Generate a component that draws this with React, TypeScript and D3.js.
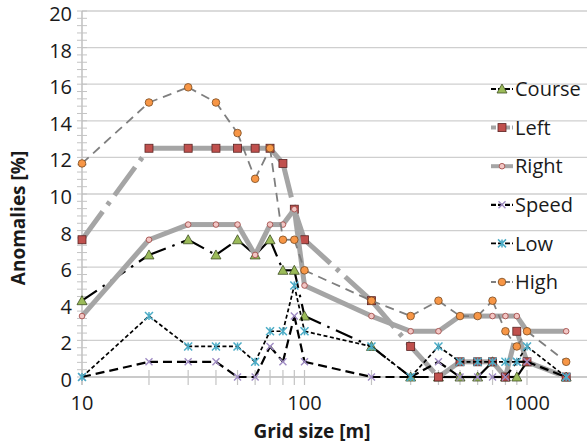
import React from "react";
import * as d3 from "d3";

// grid sizes [m] and anomaly percentages per series
const gridSizes = [10, 20, 30, 40, 50, 60, 70, 80, 90, 100, 200, 300, 400, 500, 600, 700, 800, 900, 1000, 1500];
const course = [4.17, 6.67, 7.5, 6.67, 7.5, 6.67, 7.5, 5.83, 5.83, 3.33, 1.67, 0, 0, 0, 0, 0.83, 0, 0, 0.83, 0];
const left = [7.5, 12.5, 12.5, 12.5, 12.5, 12.5, 12.5, 11.67, 9.17, 7.5, 4.17, 1.67, 0, 0.83, 0.83, 0.83, 0, 2.5, 0.83, 0];
const right = [3.33, 7.5, 8.33, 8.33, 8.33, 6.67, 8.33, 8.33, 9.17, 5.0, 3.33, 2.5, 2.5, 3.33, 3.33, 3.33, 3.33, 3.33, 2.5, 2.5];
const speed = [0, 0.83, 0.83, 0.83, 0, 0, 1.67, 0.83, 3.33, 0.83, 0, 0, 0.83, 0, 0, 0, 0, 0.83, 0.83, 0];
const low = [0, 3.33, 1.67, 1.67, 1.67, 0.83, 2.5, 2.5, 5.0, 2.5, 1.67, 0, 1.67, 0.83, 0.83, 0.83, 0.83, 0.83, 1.67, 0];
const high = [11.67, 15.0, 15.83, 15.0, 13.33, 10.83, 12.5, 7.5, 7.5, 5.83, 4.17, 3.33, 4.17, 3.33, 3.33, 4.17, 2.5, 1.67, 2.5, 0.83];

const seriesNames = ["Course", "Left", "Right", "Speed", "Low", "High"];
const seriesValues = [course, left, right, speed, low, high];

const yTicks = [0, 2, 4, 6, 8, 10, 12, 14, 16, 18, 20];
const xMajor = [10, 100, 1000];
const xMinor = [20, 30, 40, 50, 60, 70, 80, 90, 200, 300, 400, 500, 600, 700, 800, 900, 2000];

const styles = {
  Course: { stroke: "#000", width: 2.2, dash: "18 7 2.5 7", marker: "triangle" },
  Left: { stroke: "#a5a5a5", width: 5, dash: "35 8 4 8", marker: "square" },
  Right: { stroke: "#a5a5a5", width: 5, dash: null, marker: "smallcircle" },
  Speed: { stroke: "#000", width: 2.2, dash: "9 5", marker: "cross" },
  Low: { stroke: "#000", width: 1.7, dash: "4 2.5", marker: "star" },
  High: { stroke: "#7f7f7f", width: 1.8, dash: "9 6", marker: "circle" },
};

const FONT = "'Open Sans', sans-serif";

function Marker({ type, x, y }) {
  if (type === "triangle")
    return (
      <path
        d={`M${x},${y - 5} L${x + 5},${y + 4} L${x - 5},${y + 4} Z`}
        fill="#9bbb59"
        stroke="#3f4f24"
        strokeWidth={0.8}
      />
    );
  if (type === "square")
    return <rect x={x - 4} y={y - 4} width={8} height={8} fill="#c0504d" stroke="#5a2423" strokeWidth={0.8} />;
  if (type === "smallcircle")
    return <circle cx={x} cy={y} r={2.8} fill="#f2c6c4" stroke="#a5504d" strokeWidth={0.9} />;
  if (type === "circle")
    return <circle cx={x} cy={y} r={3.8} fill="#f79646" stroke="#7a4a20" strokeWidth={0.8} />;
  if (type === "cross")
    return (
      <path
        d={`M${x - 3.5},${y - 3.5} L${x + 3.5},${y + 3.5} M${x - 3.5},${y + 3.5} L${x + 3.5},${y - 3.5}`}
        stroke="#a08cc4"
        strokeWidth={1.4}
      />
    );
  // star
  return (
    <path
      d={`M${x - 4},${y - 4} L${x + 4},${y + 4} M${x - 4},${y + 4} L${x + 4},${y - 4} M${x},${y - 4} L${x},${y + 4}`}
      stroke="#4bacc6"
      strokeWidth={1.5}
    />
  );
}

export default function App() {
  const width = 587;
  const height = 448;

  const x = d3.scaleLog().domain([10, 1000]).range([82, 527]);
  const y = d3.scaleLinear().domain([0, 20]).range([377, 11]);
  const xEnd = 587;

  const yMinor = d3.range(0, 20.01, 0.4);

  const legendX = 491;
  const legendTop = 89;
  const legendStep = 38.6;

  return (
    <div style={{ position: "fixed", left: 0, top: 0 }}>
      <svg width={width} height={height} style={{ display: "block", background: "#fff" }}>
        {/* gridlines */}
        {yTicks.slice(1).map((t) => (
          <line key={"g" + t} x1={x(10)} x2={xEnd} y1={y(t)} y2={y(t)} stroke="#cfcfcf" strokeWidth={1.3} />
        ))}
        {/* y axis */}
        <line x1={x(10)} x2={x(10)} y1={y(20)} y2={y(0) + 8} stroke="#b0b0b0" strokeWidth={1.2} />
        {yMinor.map((t, i) => (
          <line key={"ym" + i} x1={x(10) - 5} x2={x(10) + 5} y1={y(t)} y2={y(t)} stroke="#c4c4c4" strokeWidth={1} />
        ))}
        {/* x axis */}
        <line x1={x(10)} x2={xEnd} y1={y(0)} y2={y(0)} stroke="#b8b8b8" strokeWidth={1.3} />
        {xMinor.concat(xMajor).map((t) => (
          <line key={"xm" + t} x1={x(t)} x2={x(t)} y1={y(0) - 7} y2={y(0) + 8} stroke="#c4c4c4" strokeWidth={1.2} />
        ))}

        {/* tick labels */}
        {yTicks.map((t) => (
          <text key={"yl" + t} x={72} y={y(t)} dy="0.5em" textAnchor="end" fontFamily={FONT} fontSize={20} fill="#1a1a1a">
            {t}
          </text>
        ))}
        {xMajor.map((t) => (
          <text key={"xl" + t} x={x(t)} y={410} textAnchor="middle" fontFamily={FONT} fontSize={20} fill="#1a1a1a">
            {t}
          </text>
        ))}

        {/* axis titles */}
        <text
          transform={`translate(25,${218}) rotate(-90)`}
          textAnchor="middle"
          fontFamily={FONT}
          fontSize={19}
          fontWeight="bold"
          fill="#1a1a1a"
        >
          Anomalies [%]
        </text>
        <text x={312} y={438} textAnchor="middle" fontFamily={FONT} fontSize={19} fontWeight="bold" fill="#1a1a1a">
          Grid size [m]
        </text>

        {/* series: each segment drawn on its own, markers on top */}
        {seriesNames.map((name, si) => {
          const st = styles[name];
          const vals = seriesValues[si];
          return (
            <g key={name}>
              {vals.slice(1).map((v, i) => (
                <path
                  key={"s" + i}
                  d={d3.line()([
                    [x(gridSizes[i]), y(vals[i])],
                    [x(gridSizes[i + 1]), y(v)],
                  ])}
                  fill="none"
                  stroke={st.stroke}
                  strokeWidth={st.width}
                  strokeDasharray={st.dash || undefined}
                />
              ))}
              {vals.map((v, i) => (
                <Marker key={"m" + i} type={st.marker} x={x(gridSizes[i])} y={y(v)} />
              ))}
            </g>
          );
        })}

        {/* legend */}
        {seriesNames.map((name, i) => {
          const st = styles[name];
          const ly = legendTop + i * legendStep;
          return (
            <g key={"lg" + name}>
              <line
                x1={legendX}
                x2={legendX + 22}
                y1={ly}
                y2={ly}
                stroke={st.stroke}
                strokeWidth={Math.min(st.width, 4)}
                strokeDasharray={st.dash ? "5 2" : undefined}
              />
              <Marker type={st.marker} x={legendX + 11} y={ly} />
              <text x={legendX + 24} y={ly} dy="0.36em" fontFamily={FONT} fontSize={20} fill="#1a1a1a">
                {name}
              </text>
            </g>
          );
        })}
      </svg>
    </div>
  );
}
